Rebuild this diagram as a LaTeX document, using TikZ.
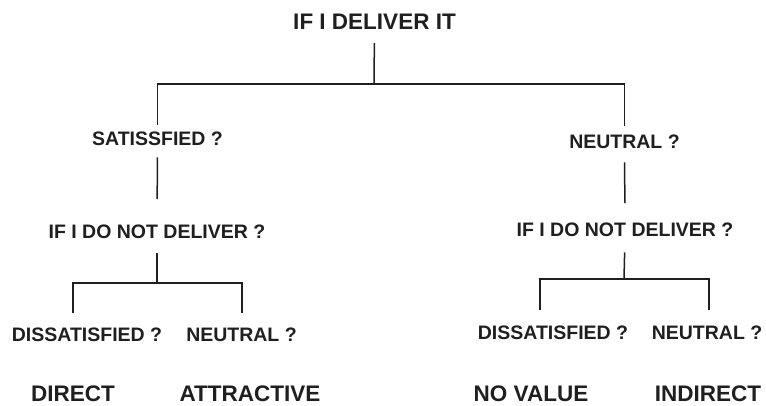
\documentclass[tikz,border=0pt]{standalone}
\usepackage{fontspec}
\setmainfont{Liberation Sans}
\begin{document}
\begin{tikzpicture}[x=1pt, y=-1pt, color=black!88,
        q/.style ={anchor=base, inner sep=0pt, font=\bfseries\fontsize{19.5}{23}\selectfont},
        big/.style={q, font=\bfseries\fontsize{22.5}{27}\selectfont},
        ln/.style ={line width=1.5pt}]
        \useasboundingbox (0,0) rectangle (766,405);
        % Kopf
        \node[big] (root) at (374.5,29.5) {IF I DELIVER IT};
        \coordinate (top) at (374,84);
        % erste Frage
        \node[q] (sat) at (157.5,145.5) {SATISSFIED ?};
        \node[q] (neu) at (624.5,148.5) {NEUTRAL ?};
        % zweite Frage
        \node[q] (ifl) at (157,238.5) {IF I DO NOT DELIVER ?};
        \node[q] (ifr) at (625,236.5) {IF I DO NOT DELIVER ?};
        \coordinate (fl) at (157,283);
        \coordinate (fr) at (624,279);
        % Antworten
        \node[q] (disl) at (87,341.5)  {DISSATISFIED ?};
        \node[q] (neul) at (241.5,341.5) {NEUTRAL ?};
        \node[q] (disr) at (553,339.5) {DISSATISFIED ?};
        \node[q] (neur) at (707,339.5) {NEUTRAL ?};
        \coordinate (dl) at (73,313);  \coordinate (nl) at (242,313);
        \coordinate (dr) at (540,310); \coordinate (nr) at (709,310);
        % Ergebnis
        \foreach \l/\px [count=\i from 1] in {DIRECT/73,ATTRACTIVE/250,NO VALUE/531,INDIRECT/708}
            {\node[big] (r\i) at (\px,401.5) {\l};}
        % Linien
        \draw[ln, shorten <=13.5pt] (root.south) -- (top);
        \draw[ln, shorten <=6.5pt, shorten >=8.5pt] (sat.north) |- (top) -| (neu.north);
        \draw[ln, shorten <=11.5pt, shorten >=25.5pt] (sat.south) -- (ifl.north);
        \draw[ln, shorten <=13.5pt, shorten >=19.5pt] (neu.south) -- (ifr.north);
        \draw[ln, shorten <=14.5pt] (ifl.south) -- (fl);
        \draw[ln, shorten <=15.5pt] (ifr.south) -- (fr);
        \draw[ln] (dl) |- (fl) -| (nl);
        \draw[ln] (dr) |- (fr) -| (nr);
    \end{tikzpicture}
\end{document}
